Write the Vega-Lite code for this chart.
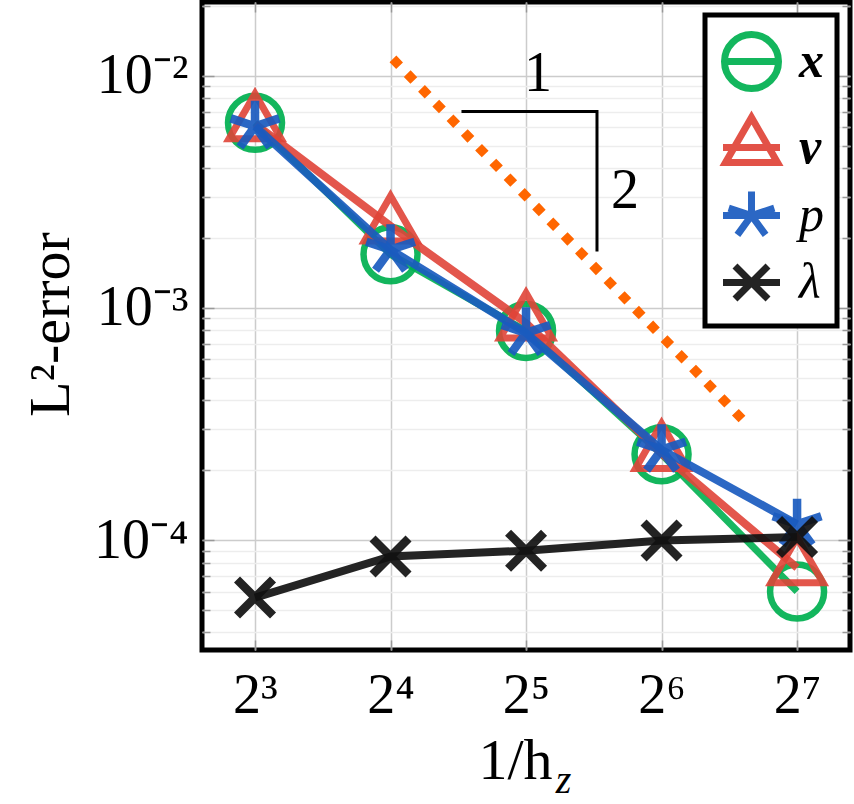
{
  "$schema": "https://vega.github.io/schema/vega-lite/v6.json",
  "width": 648,
  "height": 648,
  "autosize": {"type": "none"},
  "padding": {"left": 202, "top": 2, "right": 4, "bottom": 154},
  "config": {
    "view": {"stroke": "black", "strokeWidth": 5},
    "font": "Liberation Serif",
    "legend": {"strokeWidth": 5},
    "axis": {"labelFont": "Liberation Serif", "titleFont": "Liberation Serif", "labelColor": "black", "titleColor": "black", "titleFontWeight": "normal", "labelOverlap": false, "labelFlush": false}
  },
  "datasets": {
    "err": [
      {"s": "x", "n": 8, "e": 0.00626},
      {"s": "x", "n": 16, "e": 0.0017},
      {"s": "x", "n": 32, "e": 0.000795},
      {"s": "x", "n": 64, "e": 0.000234},
      {"s": "x", "n": 128, "e": 0.00006},
      {"s": "v", "n": 8, "e": 0.0062},
      {"s": "v", "n": 16, "e": 0.00225},
      {"s": "v", "n": 32, "e": 0.00086},
      {"s": "v", "n": 64, "e": 0.000236},
      {"s": "v", "n": 128, "e": 0.000076},
      {"s": "p", "n": 8, "e": 0.00605},
      {"s": "p", "n": 16, "e": 0.00178},
      {"s": "p", "n": 32, "e": 0.00078},
      {"s": "p", "n": 64, "e": 0.000245},
      {"s": "p", "n": 128, "e": 0.000117},
      {"s": "λ", "n": 8, "e": 0.0000565},
      {"s": "λ", "n": 16, "e": 0.000085},
      {"s": "λ", "n": 32, "e": 0.00009},
      {"s": "λ", "n": 64, "e": 0.0000995},
      {"s": "λ", "n": 128, "e": 0.000103}
    ],
    "ref": [
      {"n": 16.2, "e": 0.0118},
      {"n": 97, "e": 0.000329}
    ],
    "tri": [
      {"n": 23, "e": 0.007, "o": 1},
      {"n": 46, "e": 0.007, "o": 2},
      {"n": 46, "e": 0.00175, "o": 3}
    ],
    "lab": [
      {"n": 34, "e": 0.0102, "t": "1"},
      {"n": 53.1, "e": 0.00318, "t": "2"}
    ]
  },
  "layer": [
    {
      "data": {"name": "err"},
      "transform": [{"filter": "datum.s === 'x'"}],
      "mark": {"type": "line", "strokeWidth": 7, "opacity": 0.9},
      "encoding": {
        "x": {"field": "n", "type": "quantitative", "scale": {"type": "log", "base": 2, "domain": [6.1, 167.8], "nice": false},
          "axis": {"orient": "bottom", "values": [8, 16, 32, 64, 128],
            "labelExpr": "'2' + ['⁰','¹','²','³','⁴','⁵','⁶','⁷','⁸'][round(log(datum.value)/LN2)]",
            "labelFontSize": 56, "labelBaseline": "alphabetic", "labelPadding": 62,
            "ticks": false, "domain": false, "grid": true, "gridColor": "#cccccc", "gridWidth": 1.5,
            "title": "1/h", "titleFontSize": 58, "titleX": 313, "titleY": 128, "titleBaseline": "alphabetic"}},
        "y": {"field": "e", "type": "quantitative", "scale": {"type": "log", "domain": [0.0000336, 0.02075], "nice": false},
          "axis": {"orient": "left",
            "values": [4e-5, 5e-5, 6e-5, 7e-5, 8e-5, 9e-5, 1e-4, 2e-4, 3e-4, 4e-4, 5e-4, 6e-4, 7e-4, 8e-4, 9e-4, 0.001, 0.002, 0.003, 0.004, 0.005, 0.006, 0.007, 0.008, 0.009, 0.01, 0.02],
            "labelExpr": "abs(log(datum.value)/LN10 - round(log(datum.value)/LN10)) < 0.001 ? '10⁻' + ['⁰','¹','²','³','⁴','⁵','⁶'][-round(log(datum.value)/LN10)] : ''",
            "labelFontSize": 56, "labelPadding": 14,
            "ticks": false, "domain": false, "grid": true,
            "gridColor": {"condition": {"test": "abs(log(datum.value)/LN10 - round(log(datum.value)/LN10)) < 0.001", "value": "#cccccc"}, "value": "#ededed"},
            "gridWidth": 1.5,
            "title": "L²-error", "titleFontSize": 58, "titleX": -134, "titleY": 322, "titleBaseline": "alphabetic", "titleAngle": -90}},
        "color": {"field": "s", "type": "nominal",
          "scale": {"domain": ["x", "v", "p", "λ"], "range": ["#00b050", "#e04438", "#1a5bbf", "#111111"]},
          "legend": {"title": null, "orient": "top-right", "offset": 13, "padding": 13,
            "strokeColor": "black", "fillColor": "white",
            "labelFont": "Liberation Serif", "labelFontSize": 50, "labelFontStyle": "italic", "labelColor": "black",
            "labelFontWeight": {"expr": "datum.value === 'x' || datum.value === 'v' ? 'bold' : 'normal'"},
            "labelOffset": 14, "rowPadding": 0, "symbolSize": 3600, "symbolStrokeWidth": 7,
            "symbolFillColor": "transparent", "symbolOpacity": 0.92,
            "symbolType": {"expr": "datum.value === 'x' ? 'M-0.95,0L0.95,0M-0.9,0A0.9,0.9 0 1,0 0.9,0A0.9,0.9 0 1,0 -0.9,0Z' : datum.value === 'v' ? 'M-0.95,0L0.95,0M0,-1L0.866,0.5L-0.866,0.5Z' : datum.value === 'p' ? 'M-0.95,0L0.95,0M0,0L0,-0.8M0,0L0.76,-0.247M0,0L0.47,0.647M0,0L-0.47,0.647M0,0L-0.76,-0.247' : 'M-0.95,0L0.95,0M-0.55,-0.55L0.55,0.55M-0.55,0.55L0.55,-0.55'"}
          }}
      }
    },
    {
      "data": {"name": "err"},
      "transform": [{"filter": "datum.s === 'x'"}],
      "mark": {"type": "point", "filled": false, "size": 3600, "strokeWidth": 6.5, "opacity": 0.92, "color": "#00b050",
        "shape": "M-0.9,0A0.9,0.9 0 1,0 0.9,0A0.9,0.9 0 1,0 -0.9,0Z"},
      "encoding": {
        "x": {"field": "n", "type": "quantitative", "scale": {"type": "log", "base": 2, "domain": [6.1, 167.8], "nice": false}, "axis": null},
        "y": {"field": "e", "type": "quantitative", "scale": {"type": "log", "domain": [0.0000336, 0.02075], "nice": false},
          "axis": {"orient": "left",
            "values": [4e-5, 5e-5, 6e-5, 7e-5, 8e-5, 9e-5, 1e-4, 2e-4, 3e-4, 4e-4, 5e-4, 6e-4, 7e-4, 8e-4, 9e-4, 0.001, 0.002, 0.003, 0.004, 0.005, 0.006, 0.007, 0.008, 0.009, 0.01, 0.02],
            "labels": false, "grid": false, "domain": false, "ticks": true,
            "tickSize": {"condition": {"test": "abs(log(datum.value)/LN10 - round(log(datum.value)/LN10)) < 0.001", "value": -12}, "value": -8},
            "tickColor": "#999999", "tickWidth": 1.5, "title": null}}
      }
    },
    {
      "data": {"name": "err"},
      "transform": [{"filter": "datum.s === 'v'"}],
      "mark": {"type": "line", "color": "#e04438", "strokeWidth": 8, "opacity": 0.9},
      "encoding": {
        "x": {"field": "n", "type": "quantitative", "scale": {"type": "log", "base": 2, "domain": [6.1, 167.8], "nice": false}, "axis": null},
        "y": {"field": "e", "type": "quantitative", "scale": {"type": "log", "domain": [0.0000336, 0.02075], "nice": false}, "axis": null}
      }
    },
    {
      "data": {"name": "err"},
      "transform": [{"filter": "datum.s === 'v'"}],
      "mark": {"type": "point", "filled": false, "size": 3600, "strokeWidth": 7, "opacity": 0.9, "color": "#e04438",
        "shape": "M0,-1L0.866,0.5L-0.866,0.5Z"},
      "encoding": {
        "x": {"field": "n", "type": "quantitative", "scale": {"type": "log", "base": 2, "domain": [6.1, 167.8], "nice": false}, "axis": null},
        "y": {"field": "e", "type": "quantitative", "scale": {"type": "log", "domain": [0.0000336, 0.02075], "nice": false}, "axis": null}
      }
    },
    {
      "data": {"name": "err"},
      "transform": [{"filter": "datum.s === 'p'"}],
      "mark": {"type": "line", "color": "#1a5bbf", "strokeWidth": 8, "opacity": 0.92},
      "encoding": {
        "x": {"field": "n", "type": "quantitative", "scale": {"type": "log", "base": 2, "domain": [6.1, 167.8], "nice": false}, "axis": null},
        "y": {"field": "e", "type": "quantitative", "scale": {"type": "log", "domain": [0.0000336, 0.02075], "nice": false}, "axis": null}
      }
    },
    {
      "data": {"name": "err"},
      "transform": [{"filter": "datum.s === 'p'"}],
      "mark": {"type": "point", "filled": false, "size": 3600, "strokeWidth": 8.5, "opacity": 0.92, "color": "#1a5bbf",
        "shape": "M0,0L0,-0.85M0,0L0.808,-0.263M0,0L0.5,0.688M0,0L-0.5,0.688M0,0L-0.808,-0.263"},
      "encoding": {
        "x": {"field": "n", "type": "quantitative", "scale": {"type": "log", "base": 2, "domain": [6.1, 167.8], "nice": false}, "axis": null},
        "y": {"field": "e", "type": "quantitative", "scale": {"type": "log", "domain": [0.0000336, 0.02075], "nice": false}, "axis": null}
      }
    },
    {
      "data": {"name": "err"},
      "transform": [{"filter": "datum.s === 'λ'"}],
      "mark": {"type": "line", "color": "#111111", "strokeWidth": 8, "opacity": 0.92},
      "encoding": {
        "x": {"field": "n", "type": "quantitative", "scale": {"type": "log", "base": 2, "domain": [6.1, 167.8], "nice": false}, "axis": null},
        "y": {"field": "e", "type": "quantitative", "scale": {"type": "log", "domain": [0.0000336, 0.02075], "nice": false}, "axis": null}
      }
    },
    {
      "data": {"name": "err"},
      "transform": [{"filter": "datum.s === 'λ'"}],
      "mark": {"type": "point", "filled": false, "size": 3600, "strokeWidth": 8.5, "opacity": 0.92, "color": "#111111",
        "shape": "M-0.6,-0.6L0.6,0.6M-0.6,0.6L0.6,-0.6"},
      "encoding": {
        "x": {"field": "n", "type": "quantitative", "scale": {"type": "log", "base": 2, "domain": [6.1, 167.8], "nice": false}, "axis": null},
        "y": {"field": "e", "type": "quantitative", "scale": {"type": "log", "domain": [0.0000336, 0.02075], "nice": false}, "axis": null}
      }
    },
    {
      "data": {"name": "ref"},
      "mark": {"type": "line", "color": "#ff6600", "strokeWidth": 9.5, "strokeDash": [9.5, 11]},
      "encoding": {
        "x": {"field": "n", "type": "quantitative", "scale": {"type": "log", "base": 2, "domain": [6.1, 167.8], "nice": false}, "axis": null},
        "y": {"field": "e", "type": "quantitative", "scale": {"type": "log", "domain": [0.0000336, 0.02075], "nice": false},
          "axis": {"orient": "right",
            "values": [4e-5, 5e-5, 6e-5, 7e-5, 8e-5, 9e-5, 1e-4, 2e-4, 3e-4, 4e-4, 5e-4, 6e-4, 7e-4, 8e-4, 9e-4, 0.001, 0.002, 0.003, 0.004, 0.005, 0.006, 0.007, 0.008, 0.009, 0.01, 0.02],
            "labels": false, "grid": false, "domain": false, "ticks": true,
            "tickSize": {"condition": {"test": "abs(log(datum.value)/LN10 - round(log(datum.value)/LN10)) < 0.001", "value": -12}, "value": -8},
            "tickColor": "#999999", "tickWidth": 1.5, "title": null}}
      }
    },
    {
      "data": {"name": "tri"},
      "mark": {"type": "line", "color": "black", "strokeWidth": 3},
      "encoding": {
        "x": {"field": "n", "type": "quantitative", "scale": {"type": "log", "base": 2, "domain": [6.1, 167.8], "nice": false},
          "axis": {"orient": "bottom", "values": [8, 16, 32, 64, 128], "labels": false, "grid": false, "domain": false, "ticks": true, "tickSize": -10, "tickColor": "#999999", "tickWidth": 1.5, "title": null}},
        "y": {"field": "e", "type": "quantitative", "scale": {"type": "log", "domain": [0.0000336, 0.02075], "nice": false}, "axis": null},
        "order": {"field": "o"}
      }
    },
    {
      "data": {"name": "lab"},
      "mark": {"type": "text", "font": "Liberation Serif", "fontSize": 56, "baseline": "middle", "align": "center", "color": "black"},
      "encoding": {
        "x": {"field": "n", "type": "quantitative", "scale": {"type": "log", "base": 2, "domain": [6.1, 167.8], "nice": false},
          "axis": {"orient": "top", "values": [8, 16, 32, 64, 128], "labels": false, "grid": false, "domain": false, "ticks": true, "tickSize": -10, "tickColor": "#999999", "tickWidth": 1.5,
            "title": "z", "titleFontSize": 40, "titleFontStyle": "italic", "titleX": 361, "titleY": 790, "titleBaseline": "alphabetic"}},
        "y": {"field": "e", "type": "quantitative", "scale": {"type": "log", "domain": [0.0000336, 0.02075], "nice": false}, "axis": null},
        "text": {"field": "t"}
      }
    }
  ],
  "resolve": {"axis": {"x": "independent", "y": "independent"}}
}
